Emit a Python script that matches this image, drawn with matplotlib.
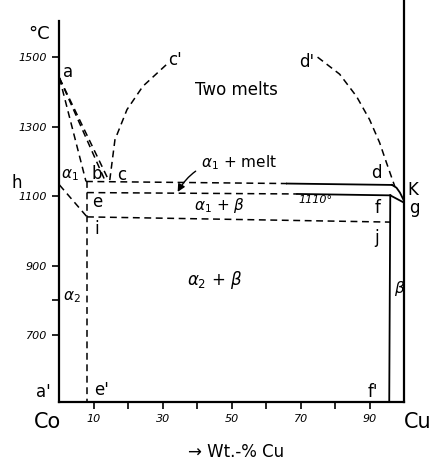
import numpy as np
import matplotlib
matplotlib.use('Agg')
import matplotlib.pyplot as plt

# Co-Cu constitution diagram, wt.-% Cu vs temperature in deg C
# liquidus / solidus branches starting at the Co melting point a
a_pt = (0, 1440)
a_ends_x = [7.7, 13.2, 14.3]
a_ends_t = [1142, 1145, 1145]

# miscibility gap boundaries c-c' and d-d'
cc_x = [14.6, 16.1, 19.6, 24.2, 31.2]
cc_t = [1146, 1262, 1349, 1416, 1480]
dd_x = [74.9, 81.3, 86.2, 90.0, 92.9, 94.9, 97.3]
dd_t = [1500, 1451, 1387, 1320, 1254, 1196, 1128]

# horizontals: b-c-d (dashed part, solid part), e-f (1110), i-j
bd_x = [7.7, 66.0, 96.5]
bd_t = [1142, 1136, 1132]
ef_x = [8.0, 69.0, 96.0]
ef_t = [1110, 1106, 1102]
ij_x = [8.0, 96.0]
ij_t = [1040, 1025]

# d -> K and f -> g closing curves at the Cu side
dk_x = [96.5, 97.8, 98.8, 99.8]
dk_t = [1132, 1124, 1110, 1090]
fg_x = [96.0, 99.8]
fg_t = [1102, 1082]

# h-i boundary and vertical phase boundaries
hi_x = [0, 8.0]
hi_t = [1132, 1040]
ee_x = [8.0, 8.0]
ee_t = [1142, 507]
ff_x = [96.0, 95.7]
ff_t = [1102, 507]

xticks = [10, 20, 30, 40, 50, 60, 70, 80, 90]
xlabels = ['10', '', '30', '', '50', '', '70', '', '90']
yticks = [700, 800, 900, 1100, 1300, 1500]
ylabels = ['700', '', '900', '1100', '1300', '1500']

fig = plt.figure(figsize=(4.34, 4.65), dpi=100)
ax = fig.add_axes([0.137, 0.1355, 0.794, 0.8193])
ax.set_xlim(0, 100)
ax.set_ylim(507, 1604)

for s in ['top', 'right']:
    ax.spines[s].set_visible(False)
for s in ['left', 'bottom']:
    ax.spines[s].set_linewidth(1.6)

dash = dict(color='black', lw=1.1, dashes=(4.5, 3))
solid = dict(color='black', lw=1.3)

for ex, et in zip(a_ends_x, a_ends_t):
    ax.plot([a_pt[0], ex], [a_pt[1], et], **dash)
ax.plot(cc_x, cc_t, **dash)
ax.plot(dd_x, dd_t, **dash)

ax.plot(bd_x[:2], bd_t[:2], **dash)
ax.plot(bd_x[1:], bd_t[1:], **solid)
ax.plot(ef_x[:2], ef_t[:2], **dash)
ax.plot(ef_x[1:], ef_t[1:], **solid)
ax.plot(ij_x, ij_t, **dash)
ax.plot(dk_x, dk_t, **solid)
ax.plot(fg_x, fg_t, **solid)
ax.plot(hi_x, hi_t, **dash)
ax.plot(ee_x, ee_t, **dash)
ax.plot(ff_x, ff_t, **solid)

# pure Cu side, runs above the frame
ax.plot([100, 100], [507, 1664], color='black', lw=1.6, clip_on=False)

ax.set_xticks(xticks)
ax.set_xticklabels(xlabels, fontsize=8, style='italic')
ax.set_yticks(yticks)
ax.set_yticklabels(ylabels, fontsize=8, style='italic')
ax.tick_params(direction='out', length=5, width=1.2, pad=4)

fs = 12
txt = [
    (2.5, 1457, 'a'), (33.5, 1491, "c'"), (71.7, 1486, "d'"),
    (-12.3, 1137, 'h'), (10.9, 1163, 'b'), (18.1, 1160, 'c'),
    (10.9, 1083, 'e'), (10.9, 1005, 'i'), (92.0, 1166, 'd'),
    (102.6, 1117, 'K'), (103.0, 1065, 'g'), (92.3, 1065, 'f'),
    (92.0, 979, 'j'), (-4.8, 536, "a'"), (12.3, 542, "e'"),
    (90.9, 536, "f'"),
]
for x, t, s in txt:
    ax.text(x, t, s, fontsize=fs, ha='center', va='center')

ax.text(3.0, 1160, r'$\alpha_1$', fontsize=11, ha='center', va='center')
ax.text(3.6, 809, r'$\alpha_2$', fontsize=11, ha='center', va='center')
ax.text(98.6, 835, r'$\beta$', fontsize=11, ha='center', va='center')
ax.text(51.4, 1405, 'Two melts', fontsize=12, ha='center', va='center')
ax.text(46.5, 1074, r'$\alpha_1$ + $\beta$', fontsize=11, ha='center', va='center')
ax.text(45.0, 858, r'$\alpha_2$ + $\beta$', fontsize=12, ha='center', va='center')
ax.text(74.3, 1088, '1110°', fontsize=8, style='italic', ha='center', va='center')
ax.annotate(r'$\alpha_1$ + melt', xy=(34.3, 1112), xytext=(41.0, 1195),
            fontsize=11, ha='left', va='center',
            arrowprops=dict(arrowstyle='-|>', color='black', lw=1.0,
                            connectionstyle='arc3,rad=0.35', shrinkA=2, shrinkB=0))

ax.text(-5.9, 1566, '°C', fontsize=13, ha='center', va='center')
ax.text(-3.6, 450, 'Co', fontsize=15, ha='center', va='center')
ax.text(103.9, 450, 'Cu', fontsize=15, ha='center', va='center')
ax.text(51.2, 363, '→ Wt.-% Cu', fontsize=12, ha='center', va='center')

fig.savefig('out.png', dpi=100)
